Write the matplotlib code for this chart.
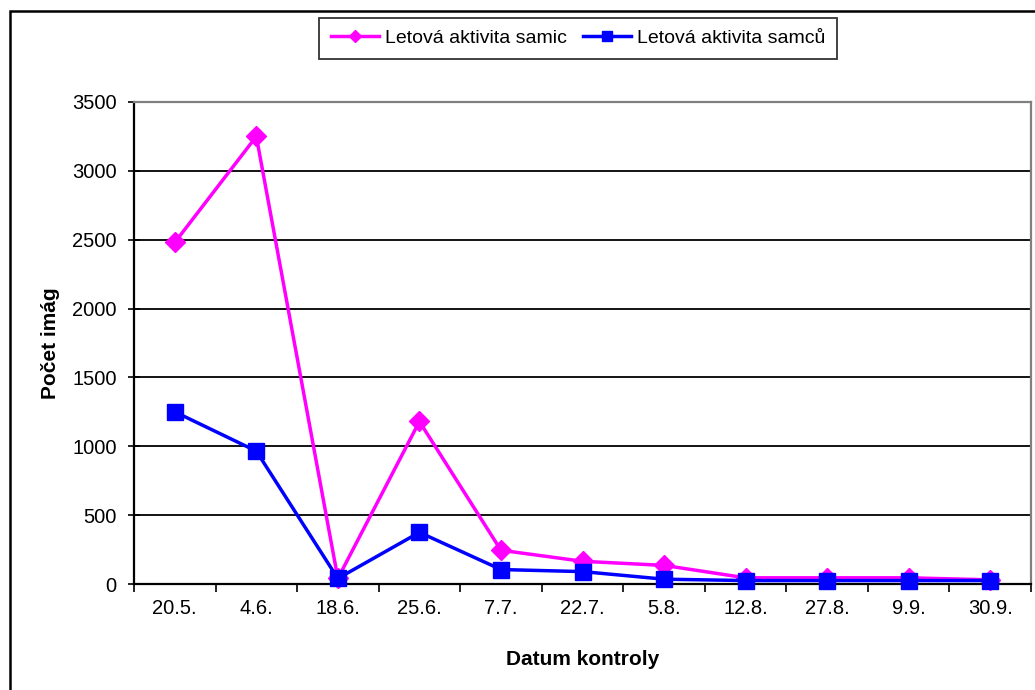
import matplotlib
matplotlib.use("Agg")
import matplotlib.pyplot as plt
from matplotlib.patches import Rectangle

plt.rcParams['font.family'] = ['Liberation Sans', 'DejaVu Sans']

dates = ["20.5.", "4.6.", "18.6.", "25.6.", "7.7.", "22.7.", "5.8.", "12.8.", "27.8.", "9.9.", "30.9."]
samice = [2480, 3250, 40, 1180, 245, 165, 135, 45, 45, 45, 30]
samci = [1250, 965, 40, 375, 105, 90, 35, 25, 25, 25, 25]
yticks = [0, 500, 1000, 1500, 2000, 2500, 3000, 3500]

W, H = 1035, 690
fig = plt.figure(figsize=(W / 100, H / 100), dpi=100)

# plot area in pixel coordinates
left, right, top, bottom = 134, 1031, 102, 584
ax = fig.add_axes([left / W, 1 - bottom / H, (right - left) / W, (bottom - top) / H])

x = list(range(len(dates)))
ax.plot(x, samice, color="#FF00FF", lw=2.5, marker="D", ms=10.5,
        label="Letová aktivita samic", zorder=3, clip_on=False)
ax.plot(x, samci, color="#0000FF", lw=2.5, marker="s", ms=11.5,
        label="Letová aktivita samců", zorder=4, clip_on=False)

ax.set_xlim(-0.5, len(dates) - 0.5)
ax.set_ylim(0, 3500)
ax.set_yticks(yticks)
ax.set_yticklabels([str(v) for v in yticks], fontsize=14.5)
ax.set_xticks(x)
ax.set_xticklabels(dates, fontsize=14.5)
ax.set_xticks([i - 0.5 for i in range(len(dates) + 1)], minor=True)
ax.tick_params(axis="x", which="major", length=0, pad=11)
ax.tick_params(axis="x", which="minor", length=6, width=1.2, direction="out")
ax.tick_params(axis="y", length=9, width=1.2, direction="inout", pad=8)

for yv in yticks[1:]:
    ax.axhline(yv, color="black", lw=1.3, zorder=1)

for side in ["left", "bottom"]:
    ax.spines[side].set_linewidth(1.6)
    ax.spines[side].set_color("black")
for side in ["right", "top"]:
    ax.spines[side].set_linewidth(1.6)
    ax.spines[side].set_color("#808080")

ax.set_ylabel("Počet imág", fontsize=15, fontweight="bold")
ax.set_xlabel("Datum kontroly", fontsize=15, fontweight="bold")
ax.yaxis.set_label_coords((60 - left) / (right - left), 0.5)
ax.xaxis.set_label_coords(0.5, -(650 - bottom) / (bottom - top))

leg = fig.legend(loc="center", bbox_to_anchor=((318 + 838) / 2 / W, 1 - 38.5 / H),
                 ncol=2, fontsize=14, frameon=True, fancybox=False,
                 edgecolor="black", borderpad=0.6, columnspacing=0.8,
                 handlelength=2.5, handletextpad=0.3, markerscale=0.6)
leg.get_frame().set_linewidth(1.3)

# outer chart border
fig.patches.append(Rectangle((10 / W, -0.05), 1.1, 1 - 11 / H + 0.05,
                             transform=fig.transFigure, fill=False,
                             edgecolor="black", lw=1.8, zorder=0))

fig.savefig("out.png", dpi=100)
